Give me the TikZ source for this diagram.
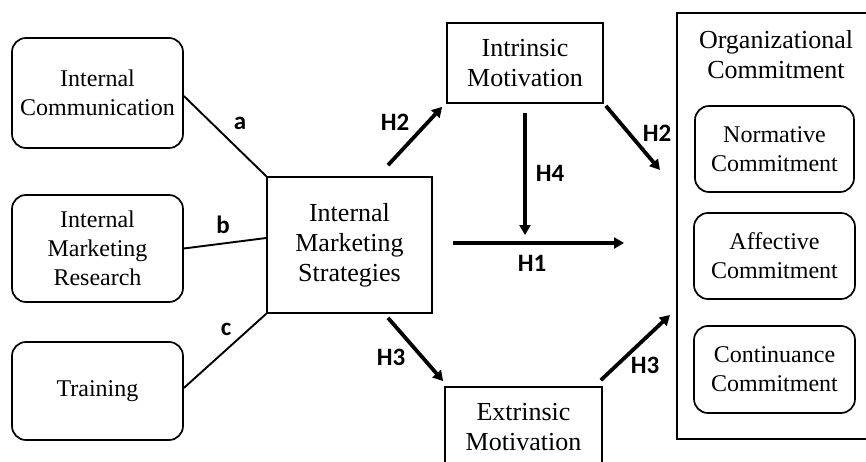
\documentclass[tikz,border=0pt]{standalone}
\usepackage{fontspec}
\setmainfont{Liberation Serif}
\newfontfamily\hypfont{Carlito}
\usetikzlibrary{arrows.meta}

\begin{document}
\begin{tikzpicture}[x=1pt, y=-1pt,
  box/.style={draw, line width=1.7pt, align=center, inner sep=0pt,
    font=\fontsize{24}{29}\selectfont},
  bigbox/.style={box, font=\fontsize{26}{30}\selectfont},
  rbox/.style={box, rounded corners=14pt},
  link/.style={line width=1.9pt},
  hyp/.style={line width=3.8pt, -{Triangle[length=10pt,width=11pt]}},
  lab/.style={inner sep=0pt, font=\hypfont\bfseries\fontsize{25}{25}\selectfont}]

\clip (0,0) rectangle (866,462);

% antecedents
\node[rbox, minimum width=171pt, minimum height=110pt] (ic)  at (97.5,93)    {Internal\\Communication};
\node[rbox, minimum width=171pt, minimum height=107pt] (imr) at (97.5,248.5) {Internal\\Marketing\\Research};
\node[rbox, minimum width=171pt, minimum height=98pt]  (tr)  at (97.5,391)   {Training};

% central construct and mediators
\node[bigbox, minimum width=165pt, minimum height=136pt] (ims) at (349.5,245) {Internal\\Marketing\\Strategies};
\node[bigbox, minimum width=156pt, minimum height=80pt]  (im)  at (525,63)    {Intrinsic\\Motivation};
\node[bigbox, minimum width=157pt, minimum height=80pt]  (em)  at (523.5,427) {Extrinsic\\Motivation};

% outcome block
\node[draw, line width=1.7pt, inner sep=0pt, minimum width=203pt, minimum height=426pt] (oc) at (778.5,226) {};
\node[align=center, inner sep=0pt, font=\fontsize{26}{30}\selectfont] (octitle) at (776,55) {Organizational\\Commitment};
\node[rbox, minimum width=159pt, minimum height=86pt] (nc) at (774.5,149)   {Normative\\Commitment};
\node[rbox, minimum width=161pt, minimum height=86pt] (ac) at (774.5,256)   {Affective\\Commitment};
\node[rbox, minimum width=161pt, minimum height=87pt] (cc) at (774.5,369.5) {Continuance\\Commitment};

% links from the antecedents
\draw[link] ([yshift=-3pt]ic.east) -- (ims.north west);
\draw[link] (imr.east) -- ([yshift=7pt]ims.west);
\draw[link] ([yshift=3pt]tr.east) -- (ims.south west);
\node[lab] (la) at (240,123) {a};
\node[lab] (lb) at (223,225) {b};
\node[lab] (lc) at (226,329) {c};

% hypothesis paths
\coordinate (h2s) at ([shift={(38.5,-11)}]ims.north);
\coordinate (h2e) at ([shift={(-4,3)}]im.south west);
\coordinate (h2bs) at ([shift={(2,2)}]im.south east);
\coordinate (h2be) at (660,170);
\coordinate (h4s) at ([shift={(0,9)}]im.south);
\coordinate (h4e) at (525,235);
\coordinate (h1s) at (453,243);
\coordinate (h1e) at (624,243);
\coordinate (h3s) at ([shift={(38.5,4)}]ims.south);
\coordinate (h3e) at ([shift={(-1,-5)}]em.north west);
\coordinate (h3bs) at ([shift={(-2,-6)}]em.north east);
\coordinate (h3be) at (670,315);

\draw[hyp] (h2s) -- (h2e);
\draw[hyp] (h2bs) -- (h2be);
\draw[hyp] (h4s) -- (h4e);
\draw[hyp] (h1s) -- (h1e);
\draw[hyp] (h3s) -- (h3e);
\draw[hyp] (h3bs) -- (h3be);

\node[lab] (l2a) at (395,122) {H2};
\node[lab] (l2b) at (657,133) {H2};
\node[lab] (l4)  at (550,173) {H4};
\node[lab] (l1)  at (532,263) {H1};
\node[lab] (l3a) at (391,357) {H3};
\node[lab] (l3b) at (645,365) {H3};
\end{tikzpicture}
\end{document}
